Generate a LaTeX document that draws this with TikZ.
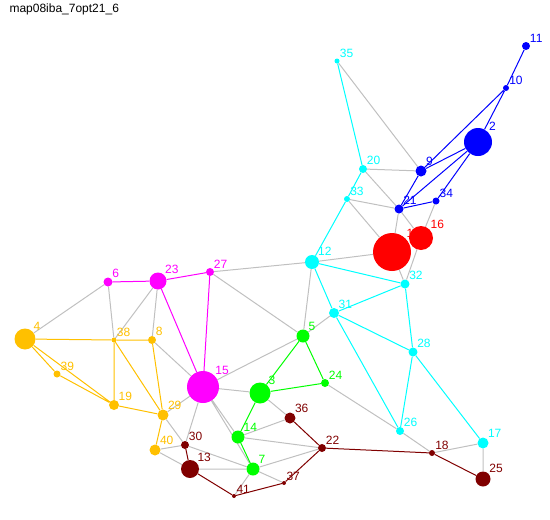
\documentclass[tikz,border=0pt]{standalone}
\usepackage{fontspec}
\setmainfont{Liberation Sans}
\usetikzlibrary{backgrounds}
\definecolor{aqua}{RGB}{0,255,255}
\definecolor{amber}{RGB}{255,192,0}
\definecolor{maroon}{RGB}{128,0,0}
\definecolor{fuchsia}{RGB}{255,0,255}
\definecolor{lime}{RGB}{0,255,0}
\definecolor{lgray}{RGB}{192,192,192}
\tikzset{
  vtx/.style={circle, fill=#1, draw=none, inner sep=0pt},
  tag/.style={text=#1, inner sep=0.8pt, font=\fontsize{12}{14}\selectfont},
  cedge/.style={draw=#1, line width=1pt},
}
\begin{document}
\begin{tikzpicture}[x=1pt,y=-1pt]
\useasboundingbox (0,0) rectangle (550,520);
\node[anchor=base west, font=\fontsize{12}{14}\selectfont] (title) at (6,12) {map08iba\_7opt21\_6};

\node[vtx=red, minimum size=38pt, label={[tag=red]45:1}] (n1) at (392,252) {};
\node[vtx=blue, minimum size=28pt, label={[tag=blue]45:2}] (n2) at (478,142) {};
\node[vtx=lime, minimum size=21pt, label={[tag=lime]45:3}] (n3) at (260,393) {};
\node[vtx=amber, minimum size=21pt, label={[tag=amber]45:4}] (n4) at (25,339) {};
\node[vtx=lime, minimum size=13pt, label={[tag=lime]45:5}] (n5) at (303,336) {};
\node[vtx=fuchsia, minimum size=9pt, label={[tag=fuchsia]45:6}] (n6) at (108,282) {};
\node[vtx=lime, minimum size=13pt, label={[tag=lime]45:7}] (n7) at (253,469) {};
\node[vtx=amber, minimum size=8pt, label={[tag=amber]45:8}] (n8) at (152,340) {};
\node[vtx=blue, minimum size=11pt, label={[tag=blue]45:9}] (n9) at (421,171) {};
\node[vtx=blue, minimum size=6pt, label={[tag=blue]45:10}] (n10) at (506,88) {};
\node[vtx=blue, minimum size=8pt, label={[tag=blue]45:11}] (n11) at (526,46) {};
\node[vtx=aqua, minimum size=14pt, label={[tag=aqua]45:12}] (n12) at (312,262) {};
\node[vtx=maroon, minimum size=18pt, label={[tag=maroon]45:13}] (n13) at (190,469) {};
\node[vtx=lime, minimum size=13pt, label={[tag=lime]45:14}] (n14) at (238,437) {};
\node[vtx=fuchsia, minimum size=32pt, label={[tag=fuchsia]45:15}] (n15) at (203,387) {};
\node[vtx=red, minimum size=24pt, label={[tag=red]45:16}] (n16) at (421,238) {};
\node[vtx=aqua, minimum size=11pt, label={[tag=aqua]45:17}] (n17) at (483,443) {};
\node[vtx=maroon, minimum size=6pt, label={[tag=maroon]45:18}] (n18) at (432,453) {};
\node[vtx=amber, minimum size=10pt, label={[tag=amber]45:19}] (n19) at (114,405) {};
\node[vtx=aqua, minimum size=8pt, label={[tag=aqua]45:20}] (n20) at (363,169) {};
\node[vtx=blue, minimum size=9pt, label={[tag=blue]45:21}] (n21) at (399,209) {};
\node[vtx=maroon, minimum size=8pt, label={[tag=maroon]45:22}] (n22) at (322,448) {};
\node[vtx=fuchsia, minimum size=17pt, label={[tag=fuchsia]45:23}] (n23) at (158,281) {};
\node[vtx=lime, minimum size=8pt, label={[tag=lime]45:24}] (n24) at (325,383) {};
\node[vtx=maroon, minimum size=15pt, label={[tag=maroon]45:25}] (n25) at (483,479) {};
\node[vtx=aqua, minimum size=8pt, label={[tag=aqua]45:26}] (n26) at (400,431) {};
\node[vtx=fuchsia, minimum size=8pt, label={[tag=fuchsia]45:27}] (n27) at (210,272) {};
\node[vtx=aqua, minimum size=9pt, label={[tag=aqua]45:28}] (n28) at (413,352) {};
\node[vtx=amber, minimum size=11pt, label={[tag=amber]45:29}] (n29) at (163,415) {};
\node[vtx=maroon, minimum size=8pt, label={[tag=maroon]45:30}] (n30) at (185,445) {};
\node[vtx=aqua, minimum size=10pt, label={[tag=aqua]45:31}] (n31) at (334,313) {};
\node[vtx=aqua, minimum size=9pt, label={[tag=aqua]45:32}] (n32) at (405,284) {};
\node[vtx=aqua, minimum size=6pt, label={[tag=aqua]45:33}] (n33) at (347,199) {};
\node[vtx=blue, minimum size=7pt, label={[tag=blue]45:34}] (n34) at (436,201) {};
\node[vtx=aqua, minimum size=5pt, label={[tag=aqua]45:35}] (n35) at (337,61) {};
\node[vtx=maroon, minimum size=11pt, label={[tag=maroon]45:36}] (n36) at (290,418) {};
\node[vtx=maroon, minimum size=4pt, label={[tag=maroon]45:37}] (n37) at (284,483) {};
\node[vtx=amber, minimum size=5pt, label={[tag=amber]45:38}] (n38) at (114,340) {};
\node[vtx=amber, minimum size=7pt, label={[tag=amber]45:39}] (n39) at (57,374) {};
\node[vtx=amber, minimum size=11pt, label={[tag=amber]45:40}] (n40) at (155,450) {};
\node[vtx=maroon, minimum size=4pt, label={[tag=maroon]45:41}] (n41) at (234,496) {};

\begin{scope}[on background layer]
\draw[cedge=lgray] (n35)--(n9) (n20)--(n9) (n20)--(n21) (n33)--(n21) (n33)--(n1) (n21)--(n1)
  (n21)--(n16) (n34)--(n16) (n12)--(n1) (n1)--(n32) (n16)--(n32) (n12)--(n27) (n12)--(n5)
  (n5)--(n31) (n27)--(n5) (n5)--(n15) (n24)--(n26) (n3)--(n36) (n3)--(n15) (n14)--(n36)
  (n14)--(n22) (n7)--(n22) (n7)--(n37) (n7)--(n41) (n7)--(n13) (n30)--(n7) (n15)--(n14)
  (n15)--(n7) (n15)--(n30) (n15)--(n29) (n15)--(n8) (n6)--(n4) (n6)--(n38) (n23)--(n38)
  (n23)--(n8) (n29)--(n30) (n40)--(n30) (n40)--(n13) (n18)--(n26) (n18)--(n17) (n17)--(n25);
\draw[cedge=blue] (n11)--(n10) (n10)--(n2) (n10)--(n9) (n2)--(n9) (n2)--(n21) (n2)--(n34)
  (n9)--(n21) (n21)--(n34);
\draw[cedge=aqua] (n35)--(n20) (n20)--(n33) (n33)--(n12) (n12)--(n32) (n12)--(n31) (n31)--(n32)
  (n32)--(n28) (n31)--(n28) (n31)--(n26) (n28)--(n26) (n28)--(n17);
\draw[cedge=fuchsia] (n6)--(n23) (n23)--(n27) (n23)--(n15) (n27)--(n15);
\draw[cedge=lime] (n5)--(n3) (n5)--(n24) (n3)--(n24) (n3)--(n14) (n14)--(n7);
\draw[cedge=amber] (n4)--(n38) (n38)--(n8) (n4)--(n39) (n4)--(n19) (n39)--(n19) (n38)--(n19)
  (n38)--(n29) (n8)--(n29) (n19)--(n29) (n29)--(n40);
\draw[cedge=maroon] (n30)--(n13) (n13)--(n41) (n41)--(n37) (n37)--(n22) (n36)--(n22)
  (n22)--(n18) (n18)--(n25);
\end{scope}
\end{tikzpicture}
\end{document}
